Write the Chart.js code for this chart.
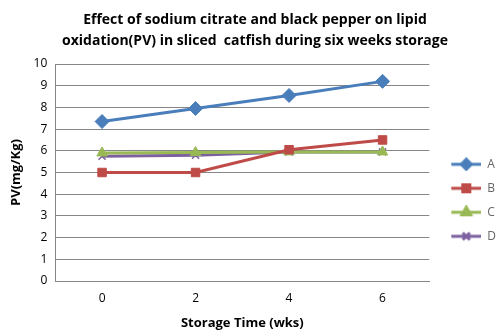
<!DOCTYPE html>
<html>
<head>
<meta charset="utf-8">
<script src="https://cdn.jsdelivr.net/npm/chart.js@4"></script>
<style>
  body { margin: 0; background: #fff; }
  #wrap { width: 500px; height: 336px; }
</style>
</head>
<body>
<div id="wrap"><canvas id="pvchart" width="500" height="336"></canvas></div>
<script>
// data
const weeks = ['0', '2', '4', '6'];
const seriesA = [7.35, 7.95, 8.55, 9.2];
const seriesB = [5.0, 5.0, 6.05, 6.5];
const seriesC = [5.9, 5.92, 5.95, 5.95];
const seriesD = [5.75, 5.8, 5.95, 5.95];
const names = ['A', 'B', 'C', 'D'];

const colors = ['#4a7ebb', '#be4b48', '#98b954', '#7d60a0'];
const styles = ['rectRot', 'rect', 'triangle', 'crossRot'];
const radii = [7, 6, 6, 5];

// small line + marker image for the legend (left 10px left blank as gap)
function legendIcon(color, style) {
  const c = document.createElement('canvas');
  c.width = 40; c.height = 14;
  const ctx = c.getContext('2d');
  ctx.strokeStyle = color;
  ctx.fillStyle = color;
  ctx.lineWidth = 3;
  ctx.beginPath();
  ctx.moveTo(10, 7); ctx.lineTo(40, 7);
  ctx.stroke();
  Chart.helpers.drawPoint(ctx, {pointStyle: style, radius: 5, borderWidth: 1.5, rotation: 0}, 25, 7);
  if (style !== 'crossRot') ctx.fill();
  return c;
}

const allData = [seriesA, seriesB, seriesC, seriesD];
const datasets = allData.map((vals, i) => ({
  label: names[i],
  data: vals,
  borderColor: colors[i],
  backgroundColor: colors[i],
  borderWidth: 3,
  pointStyle: styles[i],
  pointRadius: radii[i],
  pointBorderWidth: styles[i] === 'crossRot' ? 1.5 : 1,
  tension: 0
}));

const titleFont = {family: "'Open Sans', sans-serif", size: 13, weight: 'bold'};
const tickFont = {family: "'Open Sans', sans-serif", size: 12};

new Chart(document.getElementById('pvchart'), {
  type: 'line',
  data: { labels: weeks, datasets: datasets },
  options: {
    responsive: false,
    animation: false,
    layout: { padding: {left: 4, right: -6, top: 4, bottom: 5} },
    plugins: {
      title: {
        display: true,
        text: ['Effect of sodium citrate and black pepper on lipid',
               'oxidation(PV) in sliced  catfish during six weeks storage'],
        color: '#000',
        font: {family: "'Open Sans', sans-serif", size: 14, weight: 'bold', lineHeight: 1.5},
        padding: {top: 6, bottom: 12}
      },
      legend: {
        position: 'right',
        title: { display: true, text: ' ', font: {size: 8}, padding: {top: 0, bottom: 56} },
        labels: {
          usePointStyle: true,
          pointStyleWidth: 40,
          generateLabels: chart => chart.data.datasets.map((ds, i) => ({
            text: ds.label,
            pointStyle: legendIcon(colors[i], styles[i]),
            fillStyle: colors[i],
            strokeStyle: colors[i],
            lineWidth: 0,
            datasetIndex: i
          })),
          color: '#000',
          font: {family: "'Open Sans', sans-serif", size: 12, lineHeight: 1.35},
          padding: 12,
          boxHeight: 14
        }
      },
      tooltip: { enabled: false }
    },
    scales: {
      x: {
        offset: true,
        grid: { display: false, drawTicks: false },
        border: { color: '#868686' },
        ticks: { color: '#000', font: tickFont, padding: 10 },
        title: { display: true, text: 'Storage Time (wks)', color: '#000', font: titleFont, padding: {top: 0, bottom: 0} }
      },
      y: {
        min: 0,
        max: 10,
        ticks: { stepSize: 1, color: '#000', font: tickFont, padding: 8 },
        grid: { color: '#868686', drawTicks: false, lineWidth: 1 },
        border: { color: '#868686' },
        title: { display: true, text: 'PV(mg/Kg)', color: '#000', font: titleFont, padding: {bottom: 2} }
      }
    }
  }
});
</script>
</body>
</html>
